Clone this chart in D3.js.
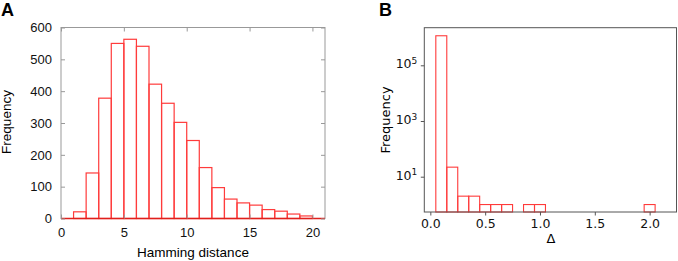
<!DOCTYPE html>
<html>
<head>
<meta charset="utf-8">
<script src="https://cdn.jsdelivr.net/npm/d3@7"></script>
<style>
  body { margin: 0; background: #fff; }
  svg { display: block; }
</style>
</head>
<body>
<div id="container"></div>
<script>
/* DATA */
// panel A: bin start (width 1) and count
const hammingBins = [1, 2, 3, 4, 5, 6, 7, 8, 9, 10, 11, 12, 13, 14, 15, 16, 17, 18, 19];
const hammingFreq = [21, 143, 378, 550, 563, 541, 422, 362, 302, 245, 160, 97, 61, 49, 42, 28, 23, 14, 8];
const hammingTicks = [0, 5, 10, 15, 20];
const freqTicks = [0, 100, 200, 300, 400, 500, 600];

// panel B: bin start (width 0.1) and count, log axis
const deltaBins = [0.05, 0.15, 0.25, 0.35, 0.45, 0.55, 0.65, 0.75, 0.85, 0.95,
                   1.05, 1.15, 1.25, 1.35, 1.45, 1.55, 1.65, 1.75, 1.85, 1.95];
const deltaFreq = [1150000, 22, 2, 2, 1, 1, 1, 0, 1, 1,
                   0, 0, 0, 0, 0, 0, 0, 0, 0, 1];
const deltaTicks = [0, 0.5, 1.0, 1.5, 2.0];
const logTicks = [1e1, 1e3, 1e5];

const width = 678, height = 261;
const barRed = "#ff3b3b";

const svg = d3.select("#container").append("svg")
  .attr("width", width).attr("height", height);

/* ---------- PANEL A ---------- */
const a = { left: 61, right: 325, top: 27.5, bottom: 218.5 };
const fontA = "Liberation Sans, Arial, sans-serif";

const xA = d3.scaleLinear().domain([0, 21]).range([a.left, a.right]);
const yA = d3.scaleLinear().domain([0, 600]).range([a.bottom, a.top]);

// bars
svg.append("g")
  .selectAll("rect")
  .data(hammingBins.map((b, i) => ({ x0: b, x1: b + 1, v: hammingFreq[i] })))
  .join("rect")
  .attr("x", d => xA(d.x0))
  .attr("width", d => xA(d.x1) - xA(d.x0))
  .attr("y", d => yA(d.v))
  .attr("height", d => yA(0) - yA(d.v))
  .attr("fill", "none")
  .attr("stroke", barRed)
  .attr("stroke-width", 1.2);

// frame
svg.append("rect")
  .attr("x", a.left).attr("y", a.top)
  .attr("width", a.right - a.left).attr("height", a.bottom - a.top)
  .attr("fill", "none").attr("stroke", "#999").attr("stroke-width", 1);

// red baseline along zero
svg.append("line")
  .attr("x1", xA(0)).attr("x2", xA(21))
  .attr("y1", yA(0)).attr("y2", yA(0))
  .attr("stroke", "#e0201c").attr("stroke-width", 1.4);

function styleA(g) {
  g.select(".domain").remove();
  g.selectAll(".tick line").attr("stroke", "#999");
  g.selectAll(".tick text").attr("fill", "#111")
    .style("font-family", fontA).style("font-size", "13px");
}

svg.append("g")
  .attr("transform", `translate(0,${a.bottom})`)
  .call(d3.axisBottom(xA).tickValues(hammingTicks).tickSize(-4).tickPadding(9))
  .call(styleA);
svg.append("g")
  .attr("transform", `translate(0,${a.top})`)
  .call(d3.axisTop(xA).tickValues(hammingTicks).tickSize(-4).tickFormat(""))
  .call(styleA);
svg.append("g")
  .attr("transform", `translate(${a.left},0)`)
  .call(d3.axisLeft(yA).tickValues(freqTicks).tickSize(-4).tickPadding(9))
  .call(styleA);
svg.append("g")
  .attr("transform", `translate(${a.right},0)`)
  .call(d3.axisRight(yA).tickValues(freqTicks).tickSize(-4).tickFormat(""))
  .call(styleA);

svg.append("text")
  .attr("x", (a.left + a.right) / 2).attr("y", 257)
  .attr("text-anchor", "middle")
  .style("font-family", fontA).style("font-size", "13.5px")
  .text("Hamming distance");

svg.append("text")
  .attr("transform", "translate(10.5,122) rotate(-90)")
  .attr("text-anchor", "middle")
  .style("font-family", fontA).style("font-size", "13.5px")
  .text("Frequency");

svg.append("text")
  .attr("x", 1).attr("y", 16)
  .style("font-family", fontA).style("font-size", "18px").style("font-weight", "bold")
  .text("A");

/* ---------- PANEL B ---------- */
const b = { left: 424.3, right: 676.5, top: 27.7, bottom: 212 };
const fontB = "DejaVu Sans, sans-serif";

const xB = d3.scaleLinear().domain([-0.055, 2.245]).range([b.left, b.right]);
const yB = d3.scaleLog().domain([0.54, 2.24e6]).range([b.bottom, b.top]);

svg.append("g")
  .selectAll("rect")
  .data(deltaBins.map((s, i) => ({ x0: s, x1: s + 0.1, v: deltaFreq[i] })).filter(d => d.v > 0))
  .join("rect")
  .attr("x", d => xB(d.x0))
  .attr("width", d => xB(d.x1) - xB(d.x0))
  .attr("y", d => yB(d.v))
  .attr("height", d => b.bottom - yB(d.v))
  .attr("fill", "none")
  .attr("stroke", barRed)
  .attr("stroke-width", 1.1);

svg.append("rect")
  .attr("x", b.left).attr("y", b.top)
  .attr("width", b.right - b.left).attr("height", b.bottom - b.top)
  .attr("fill", "none").attr("stroke", "#555").attr("stroke-width", 1);

function styleB(g) {
  g.select(".domain").remove();
  g.selectAll(".tick line").attr("stroke", "#555");
  g.selectAll(".tick text").attr("fill", "#111")
    .style("font-family", fontB).style("font-size", "12.5px");
}

svg.append("g")
  .attr("transform", `translate(0,${b.bottom})`)
  .call(d3.axisBottom(xB).tickValues(deltaTicks).tickSize(3.5).tickPadding(3.5)
    .tickFormat(d3.format(".1f")))
  .call(styleB);

const yAxisB = svg.append("g")
  .attr("transform", `translate(${b.left},0)`)
  .call(d3.axisLeft(yB).tickValues(logTicks).tickSize(3.5).tickPadding(3.5))
  .call(styleB);

// 10 with superscript exponent
yAxisB.selectAll(".tick text")
  .text(null)
  .attr("dy", "0.2em")
  .each(function (d) {
    const t = d3.select(this);
    t.append("tspan").text("10");
    t.append("tspan").attr("dy", "-0.5em").style("font-size", "9px")
      .text(Math.round(Math.log10(d)));
  });

svg.append("text")
  .attr("x", (xB(0) + xB(2)) / 2 + 11).attr("y", 243)
  .attr("text-anchor", "middle")
  .style("font-family", fontB).style("font-size", "13px")
  .text("Δ");

svg.append("text")
  .attr("transform", "translate(390,120) rotate(-90)")
  .attr("text-anchor", "middle")
  .style("font-family", fontB).style("font-size", "13px")
  .text("Frequency");

svg.append("text")
  .attr("x", 379).attr("y", 16)
  .style("font-family", fontA).style("font-size", "18px").style("font-weight", "bold")
  .text("B");
</script>
</body>
</html>
